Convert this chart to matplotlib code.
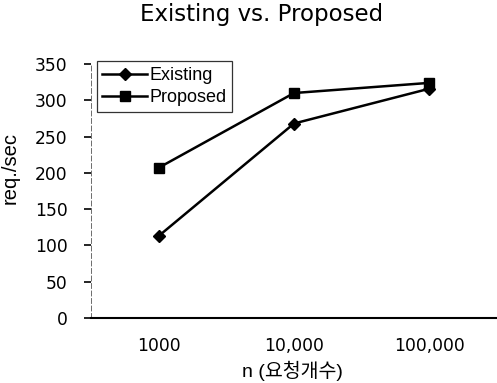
import matplotlib
matplotlib.use("Agg")
import matplotlib.pyplot as plt

categories = ["1000", "10,000", "100,000"]
existing = [113, 268, 316]
proposed = [207, 310, 324]
yticks = [0, 50, 100, 150, 200, 250, 300, 350]

fig = plt.figure(figsize=(4.97, 3.83), dpi=100)
ax = fig.add_axes([91/497, 65/383, 1 - 91/497, (318-64)/383])

x = list(range(len(categories)))
ax.plot(x, existing, color="black", lw=1.8, marker="D", ms=6, label="Existing")
ax.plot(x, proposed, color="black", lw=1.8, marker="s", ms=7, label="Proposed")

ax.set_xlim(-0.5, 2.5)
ax.set_ylim(0, 350)
ax.set_yticks(yticks)
ax.set_yticklabels([str(v) for v in yticks], fontsize=12.3, family="DejaVu Sans")
ax.set_xticks(x)
ax.set_xticklabels(categories, fontsize=12.3, family="DejaVu Sans")
ax.tick_params(axis="x", length=0, pad=14)
ax.tick_params(axis="y", direction="out", length=5, width=1.2, pad=12)

for s in ["top", "right"]:
    ax.spines[s].set_visible(False)
ax.spines["left"].set_linewidth(0.6)
ax.spines["left"].set_linestyle((0, (6, 3)))
ax.spines["left"].set_color("#555555")
ax.spines["bottom"].set_linewidth(1.5)

ax.set_ylabel("req./sec", fontsize=14.5, family="Liberation Sans")
ax.yaxis.set_label_coords(-0.175, 0.59)
ax.set_xlabel("n (요청개수)", fontsize=14, family=["Liberation Sans", "Noto Sans CJK KR"])
ax.xaxis.set_label_coords(0.496, -0.168)

fig.text(0.526, 0.963, "Existing vs. Proposed", ha="center", va="center",
         fontsize=16.5, family="DejaVu Sans")

leg = ax.legend(loc="upper left", bbox_to_anchor=(0.014, 1.01), frameon=True,
                fancybox=False, edgecolor="black",
                prop={"family": "Liberation Sans", "size": 13},
                handlelength=2.5, handletextpad=0.1, borderpad=0.3,
                labelspacing=0.3, borderaxespad=0.0)
leg.get_frame().set_linewidth(0.9)

fig.savefig("out.png", dpi=100)
